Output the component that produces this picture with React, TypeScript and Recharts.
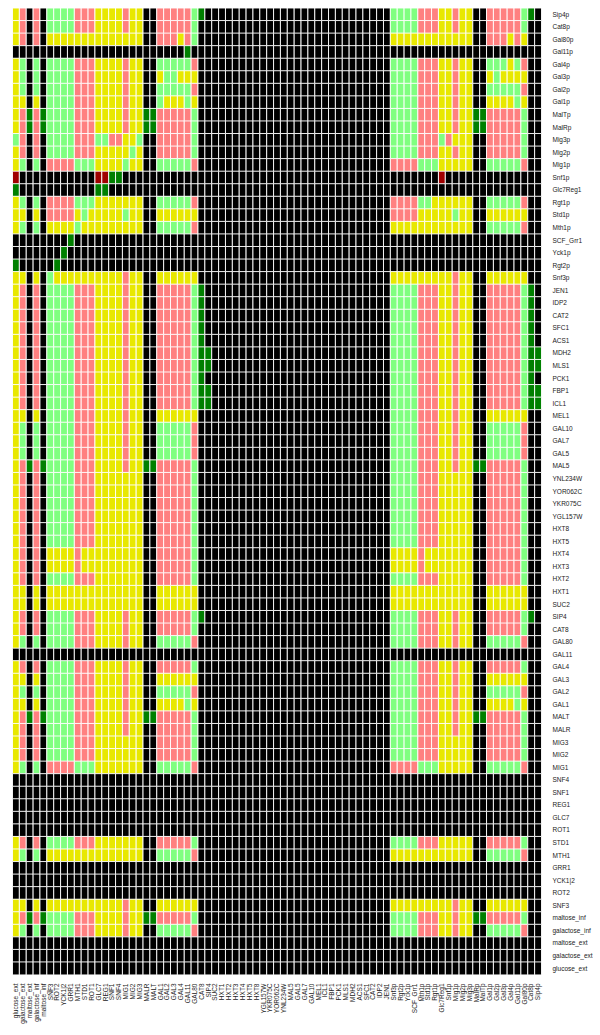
import { BarChart, Bar, XAxis, YAxis, Cell } from "recharts";

const columnLabels = [
  "glucose_ext", "galactose_ext", "maltose_ext", "galactose_inf", "maltose_inf",
  "SNF3", "ROT2", "YCK1|2", "GRR1", "MTH1", "STD1", "ROT1", "GLC7", "REG1", "SNF1", "SNF4",
  "MIG1", "MIG2", "MIG3", "MALR", "MALT", "GAL1", "GAL2", "GAL3", "GAL4", "GAL11", "GAL80",
  "CAT8", "SIP4", "SUC2", "HXT1", "HXT2", "HXT3", "HXT4", "HXT5", "HXT8",
  "YGL157W", "YKR075C", "YOR062C", "YNL234W", "MAL5", "GAL5", "GAL7", "GAL10", "MEL1",
  "ICL1", "FBP1", "PCK1", "MLS1", "MDH2", "ACS1", "SFC1", "CAT2", "IDP2", "JEN1",
  "Snf3p", "Rgt2p", "Yck1p", "SCF_Grr1", "Mth1p", "Std1p", "Rgt1p", "Glc7Reg1", "Snf1p",
  "Mig1p", "Mig2p", "Mig3p", "MalRp", "MalTp", "Gal1p", "Gal2p", "Gal3p", "Gal4p", "Gal11p",
  "Gal80p", "Cat8p", "Sip4p",
];

const rowLabels = [...columnLabels].reverse();

const palette: Record<string, string> = {
  k: "#000000",
  y: "#e8e800",
  p: "#ff8080",
  g: "#80ff80",
  G: "#008000",
  R: "#a00000",
};

// left block (columns 0-28) / right block (columns 55-76), the columns between are black
const cellCodes = [
  "ypkpk gggg ppp yyyy p yy kk ppppp g Gk / gggg ppp yy p yy kk ppppp g Gk", // Sip4p
  "ypkpk gggg ppp yyyy p yy kk ppppp g kk / gggg ppp yy p yy kk ppppp g kk", // Cat8p
  "ypkpk yyyy yyy yyyy y yy kk pppyp g kk / yyyy yyy yy y yy kk pppyp y kk", // Gal80p
  "kkkkk kkkk kkk kkkk k kk kk kkkkG k kk /", // Gal11p
  "ygkgk gggg ppp yyyy p yy kk ggggg p kk / gggg ppp yy p yy kk gggyg p kk", // Gal4p
  "ygkgk gggg ppp yyyy p yy kk yggyy y kk / gggg ppp yy p yy kk ygyyy y kk", // Gal3p
  "ygkgk gggg ppp yyyy p yy kk ggggg p kk / gggg ppp yy p yy kk ggggg p kk", // Gal2p
  "yykyk gggg ppp yyyy p yy kk gyyyg y kk / gggg ppp yy p yy kk yyyyg y kk", // Gal1p
  "ypGpG gggg ppp yyyy p yy GG ppppp g kk / gggg ppp yy p yy GG ppppp g kk", // MalTp
  "ypGpG gggg ppp yyyy p yy GG ppppp g kk / gggg ppp yy p yy GG ppppp g kk", // MalRp
  "gpkpk gggg ppp ggpp y yg kk ppppp g kk / gggg ppp gp y yy kk ppppp g kk", // Mig3p
  "ypkpk gggg ppp yyyy y gy kk ppppp g kk / gggg ppp yy p yy kk ppppp g kk", // Mig2p
  "ygkgk pppp ggg yyyy g yy kk ggggg p kk / pppp ggg yy y yy kk ggggg p kk", // Mig1p
  "Rkkkk kkkk kkk RRGG k kk kk kkkkk k kk / kkkk kkk Rk k kk kk kkkkk k kk", // Snf1p
  "Gkkkk kkkk kkk GGkk k kk kk kkkkk k kk /", // Glc7Reg1
  "ygkgk pppp ggg yyyy y yy kk ggggg p kk / pppp ggy yy y yy kk ggggg p kk", // Rgt1p
  "yykyk pppp ygy yyyy g yy kk yyyyy y kk / pppp yyy yy g yy kk yyyyy y kk", // Std1p
  "ygkgk yyyy gyy yyyy y yy kk ggggg p kk / yyyy yyy yy y yy kk ggggg p kk", // Mth1p
  "kkkkk kkkG /", // SCF_Grr1
  "kkkkk kkGk /", // Yck1p
  "Gkkkk kGkk /", // Rgt2p
  "yykyk gyyy yyy yyyy p yy kk yyyyy y kk / yyyy yyy yy p yy kk yyyyy y kk", // Snf3p
  "ypkpk gggg ppp yyyy p yy kk ppppp g Gk / gggg ppp yy p yy kk ppppp g Gk", // JEN1
  "ypkpk gggg ppp yyyy p yy kk ppppp g Gk / gggg ppp yy p yy kk ppppp g Gk", // IDP2
  "ypkpk gggg ppp yyyy p yy kk ppppp g Gk / gggg ppp yy p yy kk ppppp g Gk", // CAT2
  "ypkpk gggg ppp yyyy p yy kk ppppp g Gk / gggg ppp yy p yy kk ppppp g Gk", // SFC1
  "ypkpk gggg ppp yyyy p yy kk ppppp g Gk / gggg ppp yy p yy kk ppppp g Gk", // ACS1
  "ypkpk gggg ppp yyyy p yy kk ppppp g GG / gggg ppp yy p yy kk ppppp g GG", // MDH2
  "ypkpk gggg ppp yyyy p yy kk ppppp g GG / gggg ppp yy p yy kk ppppp g GG", // MLS1
  "ypkpk gggg ppp yyyy p yy kk ppppp g Gk / gggg ppp yy p yy kk ppppp g Gk", // PCK1
  "ypkpk gggg ppp yyyy p yy kk ppppp g GG / gggg ppp yy p yy kk ppppp g GG", // FBP1
  "ypkpk gggg ppp yyyy p yy kk ppppp g GG / gggg ppp yy p yy kk ppppp g GG", // ICL1
  "yykyk gggg ppp yyyy p yy kk yyyyy y kk / gggg ppp yy p yy kk yyyyy y kk", // MEL1
  "ygkgk gggg ppp yyyy p yy kk ggggg p kk / gggg ppp yy p yy kk ggggg p kk", // GAL10
  "ygkgk gggg ppp yyyy p yy kk ggggg p kk / gggg ppp yy p yy kk ggggg p kk", // GAL7
  "ygkgk gggg ppp yyyy p yy kk ggggg p kk / gggg ppp yy p yy kk ggggg p kk", // GAL5
  "ypGpG gggg ppp yyyy p yy GG ppppp g kk / gggg ppp yy p yy GG ppppp g kk", // MAL5
  "ypkpk gggg ppp yyyy y yy kk ppppp g kk / gggg ppp yy y yy kk ppppp g kk", // YNL234W
  "ypkpk gggg ppp yyyy y yy kk ppppp g kk / gggg ppp yy y yy kk ppppp g kk", // YOR062C
  "ypkpk gggg ppp yyyy y yy kk ppppp g kk / gggg ppp yy y yy kk ppppp g kk", // YKR075C
  "ypkpk gggg ppp yyyy y yy kk ppppp g kk / gggg ppp yy y yy kk ppppp g kk", // YGL157W
  "ypkpk gggg ppp yyyy y yy kk ppppp g kk / gggg ppp yy y yy kk ppppp g kk", // HXT8
  "ypkpk gggg ppp yyyy y yy kk ppppp g kk / gggg ppp yy y yy kk ppppp g kk", // HXT5
  "ypkpk yyyy pyy yyyy y yy kk ppppp g kk / yyyy pyy yy y yy kk ppppp g kk", // HXT4
  "ypkpk yyyy pyy yyyy y yy kk ppppp g kk / yyyy pyy yy y yy kk ppppp g kk", // HXT3
  "ypkpk gggg ppp yyyy y yy kk ppppp g kk / gggg ppp yy y yy kk ppppp g kk", // HXT2
  "yykyk yyyy yyy yyyy y yy kk yyyyy y kk / yyyy yyy yy y yy kk yyyyy y kk", // HXT1
  "yykyk yyyy yyy yyyy y yy kk yyyyy y kk / yyyy yyy yy y yy kk yyyyy y kk", // SUC2
  "ypkpk gggg ppp yyyy p yy kk ppppp g Gk / gggg ppp yy p yy kk ppppp g Gk", // SIP4
  "ypkpk gggg ppp yyyy p yy kk ppppp g kk / gggg ppp yy p yy kk ppppp g kk", // CAT8
  "ygkgk gggg ppp yyyy p yy kk ggggg p kk / gggg ppp yy p yy kk ggggg p kk", // GAL80
  "/", // GAL11
  "ypkpk gggg ppp yyyy p yy kk ppppp g kk / gggg ppp yy p yy kk ppppp g kk", // GAL4
  "yykyk gggg ppp yyyy p yy kk yyyyy y kk / gggg ppp yy p yy kk yyyyy y kk", // GAL3
  "ygkgk gggg ppp yyyy p yy kk ggggg p kk / gggg ppp yy p yy kk ggggg p kk", // GAL2
  "yykyk gggg ppp yyyy p yy kk yyyyg y kk / gggg ppp yy p yy kk yyyyg y kk", // GAL1
  "ypGpG gggg ppp yyyy p yy GG ppppp g kk / gggg ppp yy p yy GG ppppp g kk", // MALT
  "ypkpk gggg ppp yyyy p yy kk ppppp g kk / gggg ppp yy p yy kk ppppp g kk", // MALR
  "ypkpk gggg ppp yyyy y yy kk ppppp g kk / gggg ppp yy y yy kk ppppp g kk", // MIG3
  "ypkpk gggg ppp yyyy y yy kk ppppp g kk / gggg ppp yy y yy kk ppppp g kk", // MIG2
  "ygkgk pppp ggg yyyy y yy kk ggggg p kk / pppp ggg yy y yy kk ggggg p kk", // MIG1
  "/", // SNF4
  "/", // SNF1
  "/", // REG1
  "/", // GLC7
  "/", // ROT1
  "ypkpk gggg ppp yyyy y yy kk ppppp g kk / gggg ppp yy y yy kk ppppp g kk", // STD1
  "ygkgk yyyy yyy yyyy y yy kk ggggg p kk / yyyy yyy yy y yy kk ggggg p kk", // MTH1
  "/", // GRR1
  "/", // YCK1|2
  "/", // ROT2
  "yykyk yyyy yyy yyyy p yy kk yyyyy y kk / yyyy yyy yy p yy kk yyyyy y kk", // SNF3
  "ypGpG gggg ppp yyyy p yy GG ppppp g kk / gggg ppp yy p yy GG ppppp g kk", // maltose_inf
  "ygkgk gggg ppp yyyy p yy kk ggggg p kk / gggg ppp yy p yy kk ggggg p kk", // galactose_inf
  "/", // maltose_ext
  "/", // galactose_ext
  "/", // glucose_ext
];

const RIGHT_START = 55;

const parsed = cellCodes.map((s) => {
  const [left, right] = s.split("/").map((p) => p.replace(/\s/g, ""));
  return { left, right };
});

const codeAt = (row: number, col: number) => {
  const { left, right } = parsed[row];
  const c = col >= RIGHT_START ? right[col - RIGHT_START] : left[col];
  return c || "k";
};

// every cell is one unit wide, stacked along the row
const data = rowLabels.map((name) => {
  const d: Record<string, string | number> = { name };
  columnLabels.forEach((_, i) => {
    d["c" + i] = 1;
  });
  return d;
});

const columnTicks = columnLabels.map((_, i) => i + 0.5);

const ColumnTick = ({ x, y, payload }: any) => {
  const label = columnLabels[Math.floor(payload.value)];
  return (
    <text
      transform={`translate(${x + 2.3},${y + 1}) rotate(-90)`}
      textAnchor="end"
      fontSize={6.5}
      fontFamily="Liberation Sans"
      fill="#222"
    >
      {label}
    </text>
  );
};

const RowTick = ({ x, y, payload }: any) => (
  <text x={x + 3} y={y + 2.3} fontSize={6.5} fontFamily="Liberation Sans" fill="#222">
    {payload.value}
  </text>
);

export default function App() {
  return (
    <div style={{ position: "absolute", left: 0, top: 0 }}>
      <BarChart
        width={600}
        height={1035}
        data={data}
        layout="vertical"
        barCategoryGap={0}
        margin={{ top: 8, right: 0, bottom: 0, left: 12.5 }}
      >
        <XAxis
          type="number"
          domain={[0, 77]}
          ticks={columnTicks}
          interval={0}
          height={60.5}
          axisLine={false}
          tickLine={false}
          tick={<ColumnTick />}
        />
        <YAxis
          type="category"
          dataKey="name"
          orientation="right"
          width={58.5}
          interval={0}
          axisLine={false}
          tickLine={false}
          tick={<RowTick />}
        />
        {columnLabels.map((_, col) => (
          <Bar
            key={col}
            dataKey={"c" + col}
            stackId="m"
            stroke="#fff"
            strokeWidth={0.9}
            isAnimationActive={false}
          >
            {rowLabels.map((r, row) => (
              <Cell key={r} fill={palette[codeAt(row, col)]} />
            ))}
          </Bar>
        ))}
      </BarChart>
    </div>
  );
}
